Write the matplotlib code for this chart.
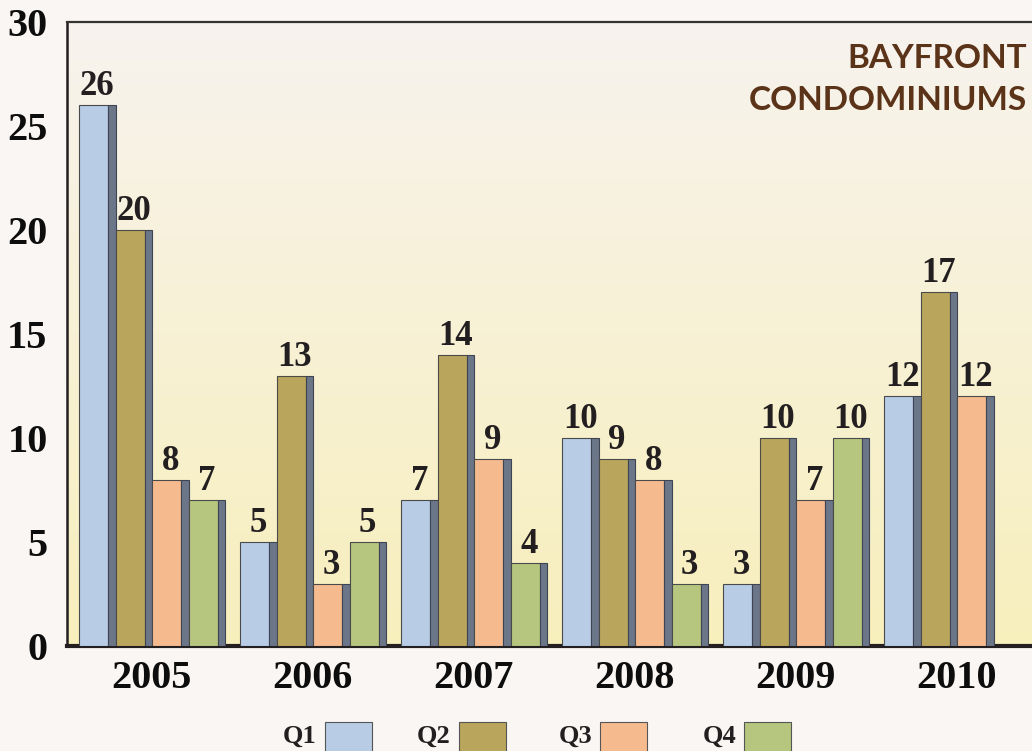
import numpy as np
import matplotlib
matplotlib.use("Agg")
import matplotlib.pyplot as plt
from matplotlib.patches import Rectangle

years = ["2005", "2006", "2007", "2008", "2009", "2010"]
series_names = ["Q1", "Q2", "Q3", "Q4"]
q1 = [26, 5, 7, 10, 3, 12]
q2 = [20, 13, 14, 9, 10, 17]
q3 = [8, 3, 9, 8, 7, 12]
q4 = [7, 5, 4, 3, 10, None]
series = [q1, q2, q3, q4]
colors = ["#b8cce6", "#b9a65c", "#f5bb8f", "#b6c67e"]
shadow_color = "#6b7688"
y_ticks = [0, 5, 10, 15, 20, 25, 30]

serif = ["Liberation Serif", "DejaVu Serif"]
W, H = 1032, 751
fig = plt.figure(figsize=(W / 100, H / 100), dpi=100)
fig.patch.set_facecolor("#f9f6f3")

ax_left, ax_right, ax_top, ax_bottom = 67, 1045, 22, 646
ax = fig.add_axes([ax_left / W, (H - ax_bottom) / H,
                   (ax_right - ax_left) / W, (ax_bottom - ax_top) / H])

# gradient background
top_c = np.array([0xf8, 0xf3, 0xee]) / 255
bot_c = np.array([0xf7, 0xef, 0xbc]) / 255
t = np.linspace(0, 1, 256)[:, None]
grad = (top_c[None, :] * (1 - t) + bot_c[None, :] * t)[:, None, :]
ax.imshow(grad, aspect="auto", extent=[0, 1, 0, 1], transform=ax.transAxes,
          zorder=0, interpolation="bicubic")

px = 161.0
slot = 36.5 / px
face_w = 29.0 / px
shad_w = 7.5 / px
start = -72.5 / px

x = np.arange(len(years))
for i, (vals, c) in enumerate(zip(series, colors)):
    for j, v in enumerate(vals):
        if v is None:
            continue
        left = x[j] + start + i * slot
        ax.bar(left, v, width=face_w, align="edge", color=c,
               edgecolor="#4a4a4a", linewidth=0.8, zorder=3)
        ax.bar(left + face_w, v, width=shad_w, align="edge", color=shadow_color,
               edgecolor="#3e4452", linewidth=0.8, zorder=3)
        ax.text(left + (face_w + shad_w) / 2, v + 0.1, str(v), ha="center",
                va="bottom", fontsize=25, fontweight="bold", family=serif,
                color="#231f20", zorder=4)

ax.set_ylim(0, 30)
ax.set_xlim(-84.5 / px, -84.5 / px + (ax_right - ax_left) / px)
ax.set_yticks(y_ticks)
ax.set_yticklabels([str(v) for v in y_ticks], fontsize=29, fontweight="bold",
                   family=serif, color="#0d0d0d")
ax.set_xticks(x)
ax.set_xticklabels(years, fontsize=29, fontweight="bold", family=serif,
                   color="#0d0d0d")
ax.tick_params(axis="y", length=0, pad=14)
ax.tick_params(axis="x", length=0, pad=10)

ax.spines["right"].set_visible(False)
ax.spines["left"].set_linewidth(1.8)
ax.spines["left"].set_color("#231f20")
ax.spines["top"].set_linewidth(1.6)
ax.spines["top"].set_color("#333333")
ax.spines["bottom"].set_linewidth(3)
ax.spines["bottom"].set_color("#231f20")

# title
fig.text(1027 / W, 1 - 58 / H, "BAYFRONT", ha="right", va="center",
         fontsize=24, fontweight="bold", family=["Lato", "DejaVu Sans"],
         color="#5a3318")
fig.text(1027 / W, 1 - 101 / H, "CONDOMINIUMS", ha="right", va="center",
         fontsize=24, fontweight="bold", family=["Lato", "DejaVu Sans"],
         color="#5a3318")

# legend
leg_x = [325, 459, 600, 744]
for name, c, lx in zip(series_names, colors, leg_x):
    fig.patches.append(Rectangle((lx / W, (H - 760) / H), 47 / W, 38 / H,
                                 transform=fig.transFigure, facecolor=c,
                                 edgecolor="#555555", linewidth=0.8))
    fig.text((lx - 8) / W, 1 - 743 / H, name, ha="right", va="baseline",
             fontsize=19, fontweight="bold", family=serif, color="#231f20")

fig.savefig("out.png", dpi=100, facecolor=fig.get_facecolor())
